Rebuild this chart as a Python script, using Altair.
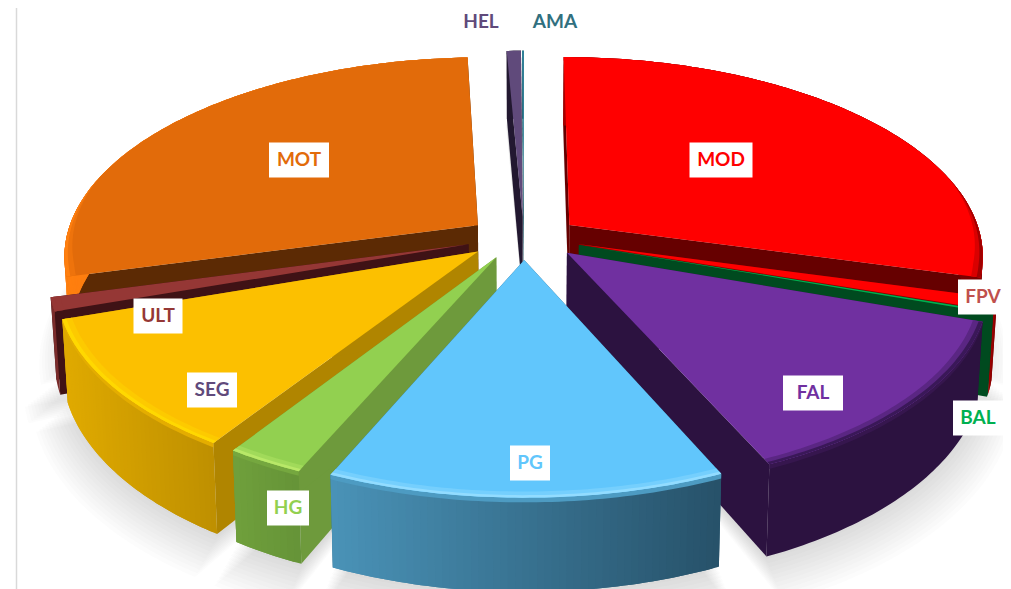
import math
import altair as alt

# ---- chart values (percent of the whole, clockwise from 12 o'clock) ----
names  = ["MOD", "FPV", "BAL", "FAL", "PG", "HG", "SEG", "ULT", "MOT", "HEL", "AMA"]
shares = [29.2, 0.95, 0.15, 13.0, 13.2, 2.6, 10.6, 1.1, 28.4, 0.64, 0.08]

# ---- styles ----
top_col   = ["#ff0000", "#ff0000", "#00b050", "#7030a0", "#61c6fc", "#92d050", "#fcc000", "#953735", "#e26b0a", "#604a7b", "#31859c"]
wall_l    = ["#a80000", "#a80000", "#004a1f", "#2c1240", "#4a93b8", "#70a03c", "#e0aa00", "#7a2c2b", "#ff7f0f", "#221830", "#215a6a"]
wall_r    = ["#7a0000", "#8a0000", "#004a1f", "#2c1240", "#27526a", "#669438", "#bf9000", "#7a2c2b", "#c85c08", "#221830", "#215a6a"]
cut_col   = ["#660000", "#8a0000", "#004a1f", "#2c1240", "#2a5a74", "#6e9a3c", "#b08500", "#3f1215", "#5c2a04", "#221830", "#215a6a"]
rim_col   = ["#a00000", "#d00000", "#00b050", "#3a1858", "#92dcff", "#b8e868", "#ffd800", "#953735", "#ff7f0f", "#604a7b", "#31859c"]
label_col = ["#ff0000", "#c0504d", "#00b050", "#7030a0", "#61c6fc", "#92d050", "#604a7b", "#953735", "#e26b0a", "#604a7b", "#31707f"]

# ---- layout of the tilted, exploded disc ----
CX, CY = 524.0, 238.0
SX, KY, P = 412.0, 196.0, 0.146
EXPLODE_X, EXPLODE_Y = 0.14, 0.11
DEPTH = 79.0
label_at = {"MOD": (721, 160), "FPV": (983, 297), "BAL": (978, 418), "FAL": (813, 393), "PG": (530, 463),
            "HG": (288, 508), "SEG": (212, 390), "ULT": (158, 316), "MOT": (299, 160), "HEL": (481, 22), "AMA": (555, 22)}
box_w = {"MOD": 63, "FPV": 50, "BAL": 50, "FAL": 60, "PG": 40, "HG": 42, "SEG": 50, "ULT": 49, "MOT": 60}


def proj(X, Y, z=0.0):
    w = 1 - P * Y
    x = CX + SX * X / w
    y = CY + (KY * Y + z * DEPTH) / w
    x = CX + (x - CX) * (1 - 0.012 * z)
    return [round(x - 8, 2), round(y - 8, 2)]


def hex_mix(a, b, t):
    ca = [int(a[i:i + 2], 16) for i in (1, 3, 5)]
    cb = [int(b[i:i + 2], 16) for i in (1, 3, 5)]
    return "#%02x%02x%02x" % tuple(round(u + (v - u) * t) for u, v in zip(ca, cb))


def feat(points, fill):
    return {"type": "Feature", "properties": {"fill": fill},
            "geometry": {"type": "Polygon", "coordinates": [points + [points[0]]]}}


total = sum(shares)
spans, a = [], 0.0
for v in shares:
    b = a + v / total * 2 * math.pi
    spans.append((a, b))
    a = b

mid = [(s + e) / 2 for s, e in spans]
offs = [(EXPLODE_X * math.sin(m), -EXPLODE_Y * math.cos(m)) for m in mid]
order = sorted(range(len(names)), key=lambda i: -math.cos(mid[i]))


def arc(i, r=1.0, z=0.0, rim=0.0):
    s, e = spans[i]
    n = max(2, int((e - s) / 0.015))
    pts = []
    for j in range(n + 1):
        t = s + (e - s) * j / n
        front = min(1.0, max(0.0, (-math.cos(t) + 0.25) / 0.45))
        rr = r - rim * front
        pts.append(proj(rr * math.sin(t) + offs[i][0], -rr * math.cos(t) + offs[i][1], z))
    return pts


shadow, solids = [], []
for lvl in range(12):
    for i in range(len(names)):
        pts = arc(i, 1.0 + 0.007 * lvl, 1.03 + 0.022 * lvl)
        pts.append(proj(offs[i][0], offs[i][1], 1.05))
        shadow.append(feat(pts, "#707070"))

for i in order:
    apex_t = proj(offs[i][0], offs[i][1], 0)
    apex_b = proj(offs[i][0], offs[i][1], 1)
    top = arc(i)
    bot = arc(i, z=1)
    solids.append(feat([apex_t, top[0], bot[0], apex_b], cut_col[i]))
    solids.append(feat([apex_t, top[-1], bot[-1], apex_b], cut_col[i]))
    xs = [p[0] for p in top]
    lo, hi = min(xs), max(xs)
    m = len(top) - 1
    if wall_l[i] == wall_r[i]:
        solids.append(feat(top + bot[::-1], wall_l[i]))
    else:
        for j in range(m):
            k = min(j + 2, m)  # each strip overlaps the next so no seam shows
            t = (top[j][0] - lo) / max(hi - lo, 1)
            solids.append(feat(top[j:k + 1] + bot[j:k + 1][::-1], hex_mix(wall_l[i], wall_r[i], t)))
    # top of the wall darkens into the bevel
    band = arc(i, z=0.05)
    solids.append(feat(top + band[::-1], hex_mix(wall_l[i], top_col[i], 0.15)))
    # upper surface with a lit rim along the front of the arc
    solids.append(feat([apex_t] + top, top_col[i]))
    inner = arc(i, rim=0.009)
    inner2 = arc(i, rim=0.022)
    solids.append(feat(top + inner2[::-1], hex_mix(rim_col[i], top_col[i], 0.6)))
    solids.append(feat(top + inner[::-1], rim_col[i]))

boxes, texts = [], []
for n, c in zip(names, label_col):
    x, y = label_at[n]
    x -= 8
    y -= 8
    if n in box_w:
        w = box_w[n]
        boxes.append(feat([[x - w / 2, y - 17.5], [x + w / 2, y - 17.5], [x + w / 2, y + 17.5], [x - w / 2, y + 17.5]], "#ffffff"))
    texts.append({"name": n, "lon": x, "lat": y, "col": c})

identity = alt.Projection(type="identity", scale=1, translate=[0, 0])


def geo(features):
    return alt.InlineData(values={"type": "FeatureCollection", "features": features},
                          format=alt.DataFormat(property="features", type="json"))


shadow_layer = alt.Chart(geo(shadow)).mark_geoshape(opacity=0.018, strokeWidth=0).encode(
    color=alt.Color("properties.fill:N", scale=None))
solid_layer = alt.Chart(geo(solids)).mark_geoshape(strokeWidth=0).encode(
    color=alt.Color("properties.fill:N", scale=None))
box_layer = alt.Chart(geo(boxes)).mark_geoshape(strokeWidth=0).encode(
    color=alt.Color("properties.fill:N", scale=None))
text_layer = alt.Chart(alt.Data(values=texts)).mark_text(
    font="Lato", fontWeight="bold", fontSize=19, align="center", baseline="middle").encode(
    longitude="lon:Q", latitude="lat:Q", text="name:N", color=alt.Color("col:N", scale=None))
frame_left = alt.Chart(alt.Data(values=[{"a": 0}])).mark_rule(color="#d9d9d9", strokeWidth=1.5).encode(
    x=alt.value(8.5), y=alt.value(0), y2=alt.value(581))

chart = alt.layer(frame_left, shadow_layer, solid_layer, box_layer, text_layer).properties(
    width=995, height=581, padding=0, autosize=alt.AutoSizeParams(type="none"),
    projection=identity, background="#ffffff"
).configure_view(stroke=None)

chart.save("out.html", embed_options={"renderer": "svg", "actions": False})
